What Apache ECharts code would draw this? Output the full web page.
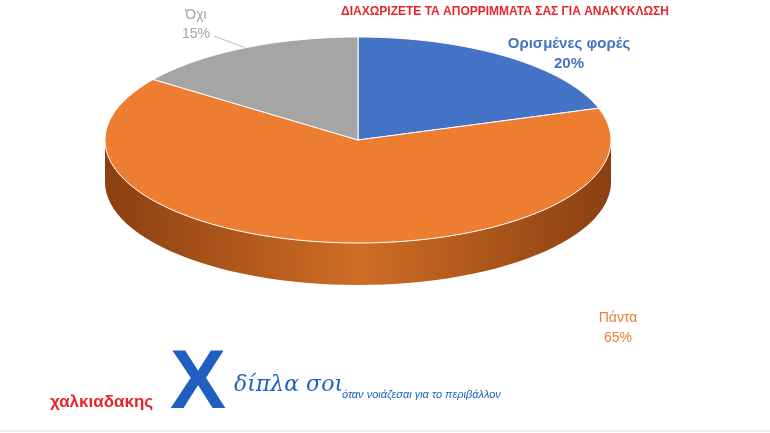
<!DOCTYPE html>
<html><head><meta charset="utf-8">
<script src="https://cdn.jsdelivr.net/npm/echarts@6/dist/echarts.min.js"></script>
<style>html,body{margin:0;background:#fff}#c{width:770px;height:433px}</style>
</head><body><div id="c"></div>
<script>
// δεδομένα
var categories = ['Ορισμένες φορές', 'Πάντα', 'Όχι'];
var values = [20, 65, 15];
var colors = ['#4472C4', '#ED7D31', '#A5A5A5'];
var sideColors = [['#2a4a85', '#3f67b3'], ['#8a4010', '#d06d26'], ['#6b6b6b', '#9a9a9a']];

var cx = 358, cy = 140, rx = 253, ry = 103, depth = 42;
var total = values.reduce(function (a, b) { return a + b; }, 0);

function pt(t, dy) { return [cx + rx * Math.cos(t), cy + ry * Math.sin(t) + (dy || 0)]; }

function renderItem(params, api) {
    var i = params.dataIndex;
    var before = 0;
    for (var k = 0; k < i; k++) before += values[k];
    var t0 = -Math.PI / 2 + before / total * 2 * Math.PI;
    var t1 = t0 + api.value(0) / total * 2 * Math.PI;
    var children = [];
    // πλευρικό τοίχωμα (ορατό μπροστά)
    [[0, Math.PI], [2 * Math.PI, 3 * Math.PI]].forEach(function (r) {
        var a = Math.max(t0, r[0]), b = Math.min(t1, r[1]);
        if (b <= a) return;
        var top = [], bot = [];
        for (var s = 0; s <= 60; s++) {
            var t = a + (b - a) * s / 60;
            top.push(pt(t));
            bot.unshift(pt(t, depth));
        }
        children.push({
            type: 'polygon', shape: { points: top.concat(bot) },
            style: { fill: new echarts.graphic.LinearGradient(0, 0, 1, 0, [
                { offset: 0, color: sideColors[i][0] },
                { offset: 0.5, color: sideColors[i][1] },
                { offset: 1, color: sideColors[i][0] }]) }
        });
    });
    // πάνω επιφάνεια
    var pts = [[cx, cy]];
    for (var s = 0; s <= 120; s++) pts.push(pt(t0 + (t1 - t0) * s / 120));
    children.push({ type: 'polygon', shape: { points: pts },
        style: { fill: colors[i], stroke: '#fff', lineWidth: 1 } });
    return { type: 'group', children: children };
}

var chart = echarts.init(document.getElementById('c'));
chart.setOption({
    animation: false,
    series: [{
        type: 'custom', coordinateSystem: 'none',
        data: values, renderItem: renderItem
    }],
    graphic: [
        { type: 'text', x: 505, y: 6, style: { text: 'ΔΙΑΧΩΡΙΖΕΤΕ ΤΑ ΑΠΟΡΡΙΜΜΑΤΑ ΣΑΣ ΓΙΑ ΑΝΑΚΥΚΛΩΣΗ', fill: '#e8242c', font: 'bold 12px Arial, sans-serif', align: 'center' } },
        { type: 'text', x: 569, y: 34, style: { text: categories[0] + '\n' + values[0] + '%', fill: '#4472C4', font: 'bold 15px Arial, sans-serif', align: 'center', lineHeight: 20 } },
        { type: 'text', x: 618, y: 308, style: { text: categories[1] + '\n' + values[1] + '%', fill: '#ED7D31', font: '14px Arial, sans-serif', align: 'center', lineHeight: 20 } },
        { type: 'text', x: 196, y: 6, style: { text: categories[2] + '\n' + values[2] + '%', fill: '#A5A5A5', font: '14px Arial, sans-serif', align: 'center', lineHeight: 19 } },
        { type: 'polyline', shape: { points: [[214, 36], [262, 54]] }, style: { stroke: '#bbb', lineWidth: 1 } },
        { type: 'text', x: 50, y: 394, style: { text: 'χαλκιαδακης', fill: '#e8242c', font: 'bold 17px Arial, sans-serif' } },
        { type: 'text', x: 170, y: 343, style: { text: 'X', fill: '#1f5fbf', font: 'bold 84px Arial, sans-serif' } },
        { type: 'text', x: 234, y: 374, style: { text: 'δίπλα σοι', fill: '#1f5fbf', font: 'italic 22px "DejaVu Serif", serif' } },
        { type: 'text', x: 342, y: 389, style: { text: 'όταν νοιάζεσαι για το περιβάλλον', fill: '#1f5fbf', font: 'italic 11px Arial, sans-serif' } },
        { type: 'line', shape: { x1: 0, y1: 431, x2: 770, y2: 431 }, style: { stroke: '#ddd', lineWidth: 1 } }
    ]
});
</script></body></html>
